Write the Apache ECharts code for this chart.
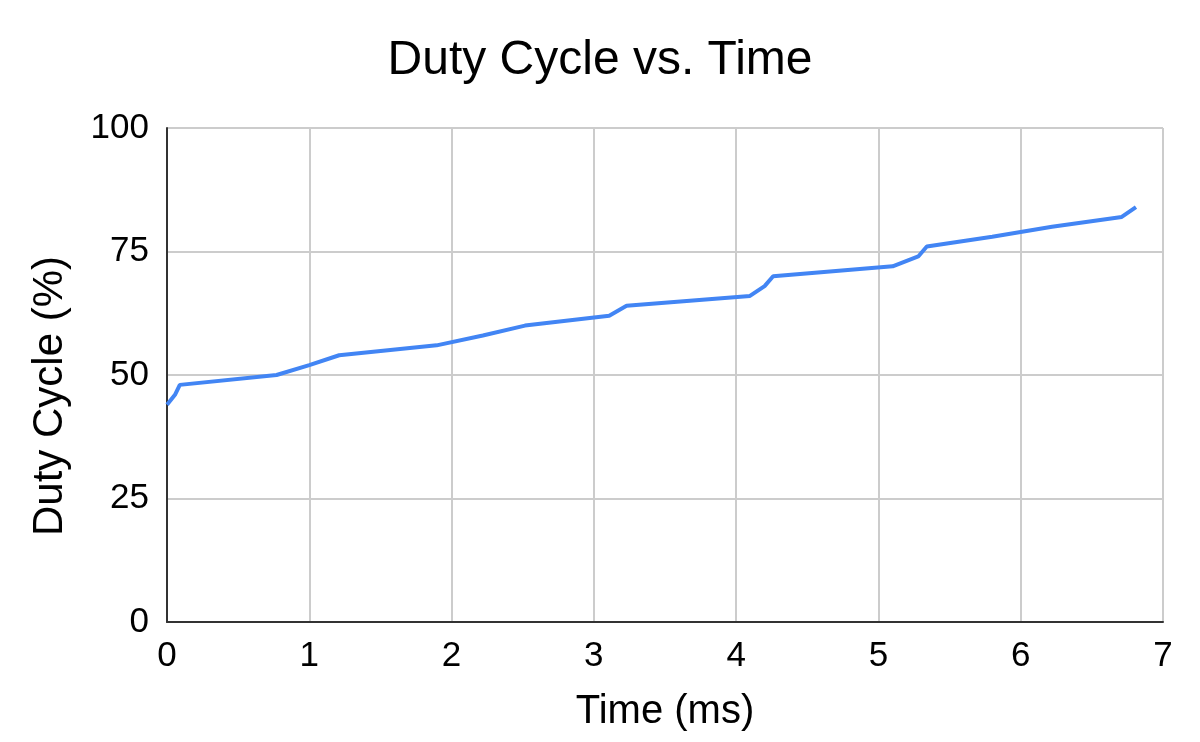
<!DOCTYPE html>
<html>
<head>
<meta charset="utf-8">
<script src="https://cdn.jsdelivr.net/npm/echarts@6/dist/echarts.min.js"></script>
<style>html,body{margin:0;padding:0;background:#fff}#chart{width:1200px;height:742px}</style>
</head>
<body>
<div id="chart"></div>
<script>
const timeMs = [0, 0.056, 0.09, 0.77, 1.0, 1.21, 1.895, 2.22, 2.516, 3.108, 3.23, 4.097, 4.2, 4.26, 5.10, 5.28, 5.34, 5.8, 6.22, 6.71, 6.81];
const dutyCycle = [44, 46, 48, 50, 52, 54, 56, 58, 60, 62, 64, 66, 68, 70, 72, 74, 76, 78, 80, 82, 84];
const xTicks = [0, 1, 2, 3, 4, 5, 6, 7];
const yTicks = [0, 25, 50, 75, 100];

const font = '"Liberation Sans", Arial, sans-serif';
const chart = echarts.init(document.getElementById('chart'), null, {renderer: 'canvas'});
chart.setOption({
  animation: false,
  backgroundColor: '#ffffff',
  title: {
    text: 'Duty Cycle vs. Time',
    left: 'center',
    top: 32,
    textStyle: {fontFamily: font, fontSize: 48, fontWeight: 'normal', color: '#000'}
  },
  grid: {left: 167, right: 37, top: 128, bottom: 120, containLabel: false},
  xAxis: {
    type: 'value',
    min: xTicks[0], max: xTicks[xTicks.length - 1], interval: 1,
    name: 'Time (ms)',
    nameLocation: 'middle',
    nameGap: 70,
    nameTextStyle: {fontFamily: font, fontSize: 40, color: '#000'},
    axisLine: {show: true, lineStyle: {color: '#333', width: 2}},
    axisTick: {show: false},
    axisLabel: {fontFamily: font, fontSize: 35, color: '#000', margin: 17},
    splitLine: {show: true, lineStyle: {color: '#cccccc', width: 2}}
  },
  yAxis: {
    type: 'value',
    min: yTicks[0], max: yTicks[yTicks.length - 1], interval: 25,
    name: 'Duty Cycle (%)',
    nameLocation: 'middle',
    nameGap: 96,
    nameTextStyle: {fontFamily: font, fontSize: 42, color: '#000', padding: [0, 42, 0, 0]},
    axisLine: {show: true, lineStyle: {color: '#333', width: 2}},
    axisTick: {show: false},
    axisLabel: {fontFamily: font, fontSize: 35, color: '#000', margin: 18},
    splitLine: {show: true, lineStyle: {color: '#cccccc', width: 2}}
  },
  series: [{
    type: 'line',
    data: timeMs.map((t, i) => [t, dutyCycle[i]]),
    showSymbol: false,
    smooth: false,
    lineStyle: {color: '#4285F4', width: 4},
    itemStyle: {color: '#4285F4'}
  }]
});
</script>
</body>
</html>
